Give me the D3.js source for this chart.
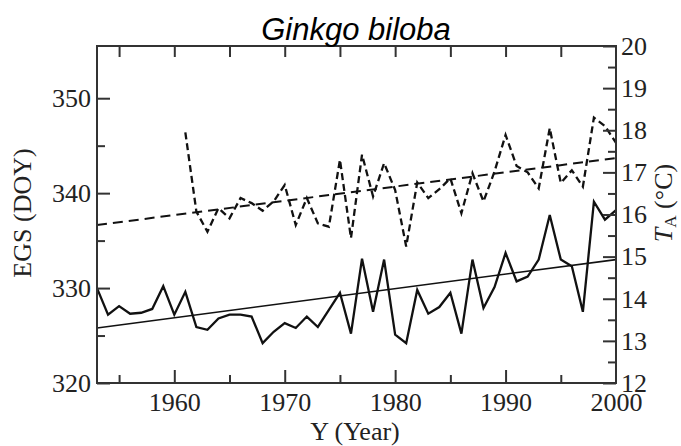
<!DOCTYPE html>
<html><head><meta charset="utf-8">
<script src="https://cdn.jsdelivr.net/npm/d3@7"></script>
<style>body{margin:0;background:#fff}svg{display:block}</style>
</head><body><svg id="c" width="681" height="446"></svg>
<script>
// ---- data ----
const egsYears = [1953,1954,1955,1956,1957,1958,1959,1960,1961,1962,1963,1964,1965,1966,1967,1968,1969,1970,1971,1972,1973,1974,1975,1976,1977,1978,1979,1980,1981,1982,1983,1984,1985,1986,1987,1988,1989,1990,1991,1992,1993,1994,1995,1996,1997,1998,1999,2000];
const egsValues = [330.0,327.2,328.1,327.3,327.4,327.8,330.2,327.2,329.6,325.9,325.6,326.8,327.2,327.2,327.0,324.2,325.4,326.3,325.8,327.0,325.9,327.7,329.5,325.2,333.1,327.5,333.0,325.1,324.2,329.8,327.3,328.0,329.5,325.2,333.0,327.9,330.1,333.7,330.7,331.2,333.0,337.7,333.0,332.3,327.5,339.1,337.2,338.2];
const taYears = [1961,1962,1963,1964,1965,1966,1967,1968,1969,1970,1971,1972,1973,1974,1975,1976,1977,1978,1979,1980,1981,1982,1983,1984,1985,1986,1987,1988,1989,1990,1991,1992,1993,1994,1995,1996,1997,1998,1999,2000];
const taValues = [17.95,16.07,15.59,16.15,15.91,16.39,16.27,16.09,16.31,16.70,15.75,16.39,15.79,15.71,17.30,15.44,17.42,16.43,17.22,16.58,15.24,16.76,16.39,16.60,16.86,16.03,16.98,16.31,17.02,17.89,17.15,17.00,16.62,18.05,16.75,17.05,16.66,18.30,18.10,17.70];
const trendYears = [1953, 2000];
const egsTrend = [325.8, 333.0];
const taTrend = [15.75, 17.34];
const xTickValues = [1955,1960,1965,1970,1975,1980,1985,1990,1995,2000];
const xTickLabels = [1960,1970,1980,1990,2000];
const leftTickValues = [320,325,330,335,340,345,350];
const leftTickLabels = [320,330,340,350];
const rightTickValues = [12,12.5,13,13.5,14,14.5,15,15.5,16,16.5,17,17.5,18,18.5,19,19.5,20];
const rightTickLabels = [12,13,14,15,16,17,18,19,20];
const titleText = "Ginkgo biloba";
const xTitle = "Y (Year)";
const yLeftTitle = "EGS (DOY)";

// ---- layout ----
const L = 97, R = 616, T = 46, B = 383;
const svg = d3.select("#c");
const x = d3.scaleLinear().domain([1953, 2000]).range([L, R]);
const yL = d3.scaleLinear().domain([320, 355.5]).range([B, T]);
const yR = d3.scaleLinear().domain([12, 20]).range([B, T]);
const ink = "#111";
const serif = "'Liberation Serif','Times New Roman',serif";
const fs = 26;

// trend lines
svg.append("path")
  .attr("d", d3.line().x((d,i)=>x(trendYears[i])).y(d=>yL(d))(egsTrend))
  .attr("fill","none").attr("stroke",ink).attr("stroke-width",1.6);
svg.append("path")
  .attr("d", d3.line().x((d,i)=>x(trendYears[i])).y(d=>yR(d))(taTrend))
  .attr("fill","none").attr("stroke",ink).attr("stroke-width",2)
  .attr("stroke-dasharray","10,6");

// data lines
svg.append("path")
  .attr("d", d3.line().x((d,i)=>x(egsYears[i])).y(d=>yL(d))(egsValues))
  .attr("fill","none").attr("stroke",ink).attr("stroke-width",2.3)
  .attr("stroke-linejoin","miter");
svg.append("path")
  .attr("d", d3.line().x((d,i)=>x(taYears[i])).y(d=>yR(d))(taValues))
  .attr("fill","none").attr("stroke",ink).attr("stroke-width",2.3)
  .attr("stroke-dasharray","7,4");

// frame
svg.append("rect").attr("x",L).attr("y",T).attr("width",R-L).attr("height",B-T)
  .attr("fill","none").attr("stroke","#333").attr("stroke-width",2);

function styleAxis(g){
  g.select(".domain").remove();
  g.selectAll(".tick line").attr("stroke","#333").attr("stroke-width",2);
  g.selectAll(".tick text").attr("font-family",serif).attr("font-size",fs).attr("fill","#222");
}
// bottom
const gB = svg.append("g").attr("transform",`translate(0,${B})`)
  .call(d3.axisBottom(x).tickValues(xTickValues).tickSizeInner(-13).tickSizeOuter(0)
    .tickFormat(d=>xTickLabels.includes(d)?d:"").tickPadding(10));
styleAxis(gB);
gB.selectAll(".tick line").attr("y2", d=> d%10===0 ? -13 : -8);
gB.selectAll(".tick").filter(d=>d===2000).select("line").remove();
// top
const gT = svg.append("g").attr("transform",`translate(0,${T})`)
  .call(d3.axisTop(x).tickValues(xTickValues.filter(d=>d<2000)).tickSizeInner(-11).tickFormat(""));
styleAxis(gT);
// left
const gL = svg.append("g").attr("transform",`translate(${L},0)`)
  .call(d3.axisLeft(yL).tickValues(leftTickValues).tickSizeInner(-13)
    .tickFormat(d=>leftTickLabels.includes(d)?d:"").tickPadding(6));
styleAxis(gL);
gL.selectAll(".tick line").attr("x2", d=> d%10===0 ? 13 : 8);
// right
const gR = svg.append("g").attr("transform",`translate(${R},0)`)
  .call(d3.axisRight(yR).tickValues(rightTickValues).tickSizeInner(-13)
    .tickFormat(d=>rightTickLabels.includes(d)?d:"").tickPadding(5));
styleAxis(gR);
gR.selectAll(".tick line").attr("x2", d=> Number.isInteger(d) ? -13 : -8);

// titles
svg.append("text").attr("x",356).attr("y",40).attr("text-anchor","middle")
  .attr("font-family","'Liberation Sans',Arial,sans-serif").attr("font-style","italic")
  .attr("font-size",31).attr("fill","#000").text(titleText);
svg.append("text").attr("x",355).attr("y",440).attr("text-anchor","middle")
  .attr("font-family",serif).attr("font-size",fs).attr("fill","#222").text(xTitle);
svg.append("text").attr("transform","translate(31,213) rotate(-90)").attr("text-anchor","middle")
  .attr("font-family",serif).attr("font-size",fs).attr("fill","#222").text(yLeftTitle);
const rt = svg.append("text").attr("transform","translate(672,203) rotate(-90)").attr("text-anchor","middle")
  .attr("font-family",serif).attr("font-size",fs).attr("fill","#222");
rt.append("tspan").attr("font-style","italic").text("T");
rt.append("tspan").attr("font-size",17).attr("dy",4).text("A");
rt.append("tspan").attr("dy",-4).text(" (°C)");
</script></body></html>
